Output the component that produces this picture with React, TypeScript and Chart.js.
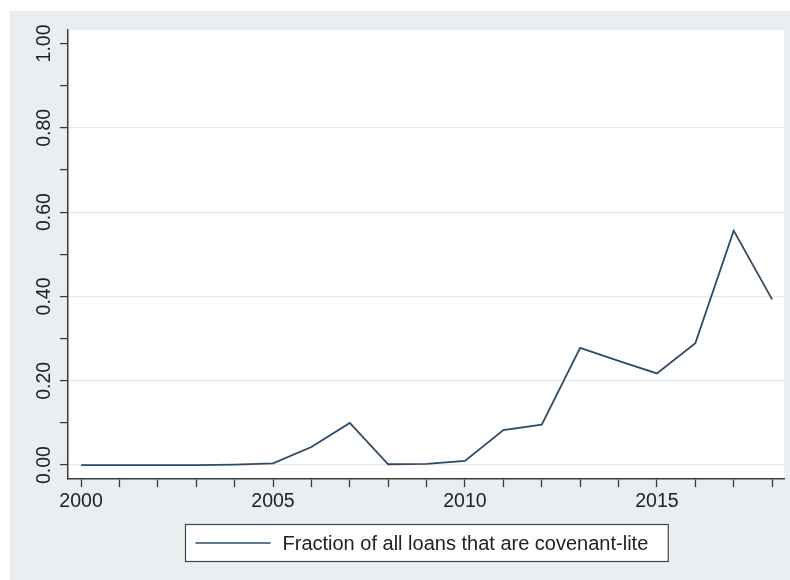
import React, { useEffect, useRef } from "react";
import { Chart, registerables } from "chart.js";

Chart.register(...registerables);

const years = [2000, 2001, 2002, 2003, 2004, 2005, 2006, 2007, 2008, 2009, 2010, 2011, 2012, 2013, 2014, 2015, 2016, 2017, 2018];
const covLite = [0.0, 0.0, 0.0, 0.0, 0.001, 0.004, 0.043, 0.1, 0.002, 0.003, 0.01, 0.083, 0.096, 0.278, 0.247, 0.2175, 0.289, 0.556, 0.393];
const seriesLabel = "Fraction of all loans that are covenant-lite";
const yTickValues = [0, 0.1, 0.2, 0.3, 0.4, 0.5, 0.6, 0.7, 0.8, 0.9, 1.0];
const yLabelValues = [0, 0.2, 0.4, 0.6, 0.8, 1.0];
const xLabelYears = [2000, 2005, 2010, 2015];

const FONT = "'Liberation Sans', Arial, Helvetica, sans-serif";
const LINE_COLOR = "#2e4a66";
const AXIS_COLOR = "#3a3a3a";
const TEXT_COLOR = "#222222";
const BG_COLOR = "#e9eff1";
const GRID_COLOR = "#e4ebee";

const isMajor = (v: number) => yLabelValues.some((m) => Math.abs(m - v) < 1e-6);

const backgroundPlugin = {
  id: "stataBackground",
  beforeDraw(chart: any) {
    const { ctx, chartArea } = chart;
    ctx.save();
    ctx.fillStyle = "#ffffff";
    ctx.fillRect(0, 0, chart.width, chart.height);
    ctx.fillStyle = BG_COLOR;
    ctx.fillRect(10, 11, chart.width - 10, chart.height - 11);
    ctx.fillStyle = "#ffffff";
    ctx.fillRect(chartArea.left, chartArea.top, chartArea.right - chartArea.left, chartArea.bottom - chartArea.top);
    ctx.restore();
  },
};

const legendPlugin = {
  id: "stataLegend",
  afterDraw(chart: any) {
    const { ctx, chartArea } = chart;
    const ds = chart.data.datasets[0];
    ctx.save();
    ctx.font = `20px ${FONT}`;
    const tw = ctx.measureText(ds.label).width;
    const boxW = 10 + 75 + 12 + tw + 20;
    const boxH = 37;
    const cx = (chartArea.left + chartArea.right) / 2;
    const x0 = Math.round(cx - boxW / 2) + 0.5;
    const y0 = 524.5;
    ctx.fillStyle = "#ffffff";
    ctx.fillRect(x0, y0, boxW, boxH);
    ctx.strokeStyle = "#444444";
    ctx.lineWidth = 1.2;
    ctx.strokeRect(x0, y0, boxW, boxH);
    const my = y0 + boxH / 2;
    ctx.strokeStyle = ds.borderColor;
    ctx.lineWidth = 1.6;
    ctx.beginPath();
    ctx.moveTo(x0 + 10, my);
    ctx.lineTo(x0 + 85, my);
    ctx.stroke();
    ctx.fillStyle = TEXT_COLOR;
    ctx.textBaseline = "middle";
    ctx.textAlign = "left";
    ctx.fillText(ds.label, x0 + 97, my + 1);
    ctx.restore();
  },
};

export default function App() {
  const ref = useRef<HTMLCanvasElement | null>(null);

  useEffect(() => {
    if (!ref.current) return;
    const chart = new Chart(ref.current, {
      type: "line",
      data: {
        datasets: [
          {
            label: seriesLabel,
            data: years.map((yr, i) => ({ x: yr, y: covLite[i] })),
            borderColor: LINE_COLOR,
            borderWidth: 1.8,
            pointRadius: 0,
            tension: 0,
            fill: false,
          },
        ],
      },
      options: {
        animation: false,
        responsive: false,
        devicePixelRatio: 1,
        layout: { padding: { top: 30, right: 6, bottom: 61, left: 0 } },
        plugins: {
          legend: { display: false },
          tooltip: { enabled: false },
        },
        scales: {
          x: {
            type: "linear",
            min: 1999.66,
            max: 2018.31,
            afterBuildTicks: (scale: any) => {
              scale.ticks = years.map((v) => ({ value: v }));
            },
            afterFit: (scale: any) => {
              scale.height = 40;
            },
            ticks: {
              autoSkip: false,
              maxRotation: 0,
              minRotation: 0,
              padding: 3,
              color: TEXT_COLOR,
              font: { family: FONT, size: 19.5 },
              callback: (v: any) => (xLabelYears.includes(Number(v)) ? String(v) : ""),
            },
            grid: {
              drawOnChartArea: false,
              drawTicks: true,
              tickLength: 8,
              tickColor: AXIS_COLOR,
              tickWidth: 1.3,
            },
            border: { display: true, color: AXIS_COLOR, width: 1.5 },
          },
          y: {
            type: "linear",
            min: -0.033,
            max: 1.032,
            afterBuildTicks: (scale: any) => {
              scale.ticks = yTickValues.map((v) => ({ value: v }));
            },
            afterFit: (scale: any) => {
              scale.width = 68;
            },
            ticks: {
              autoSkip: false,
              minRotation: 90,
              maxRotation: 90,
              crossAlign: "center",
              padding: -4,
              color: TEXT_COLOR,
              font: { family: FONT, size: 19.5 },
              callback: (v: any) => (isMajor(Number(v)) ? Number(v).toFixed(2) : ""),
            },
            grid: {
              drawOnChartArea: true,
              drawTicks: true,
              tickLength: 8,
              tickColor: AXIS_COLOR,
              tickWidth: 1.3,
              lineWidth: 1.2,
              color: (ctx: any) => {
                const v = ctx.tick ? ctx.tick.value : NaN;
                return isMajor(v) && Math.abs(v - 1) > 1e-6 ? GRID_COLOR : "rgba(0,0,0,0)";
              },
            },
            border: { display: true, color: AXIS_COLOR, width: 1.5 },
          },
        },
      },
      plugins: [backgroundPlugin, legendPlugin],
    });
    return () => chart.destroy();
  }, []);

  return (
    <div style={{ position: "absolute", left: 0, top: 0, width: 790, height: 580, background: "#fff" }}>
      <canvas ref={ref} width={790} height={580} style={{ width: 790, height: 580, display: "block" }} />
    </div>
  );
}
